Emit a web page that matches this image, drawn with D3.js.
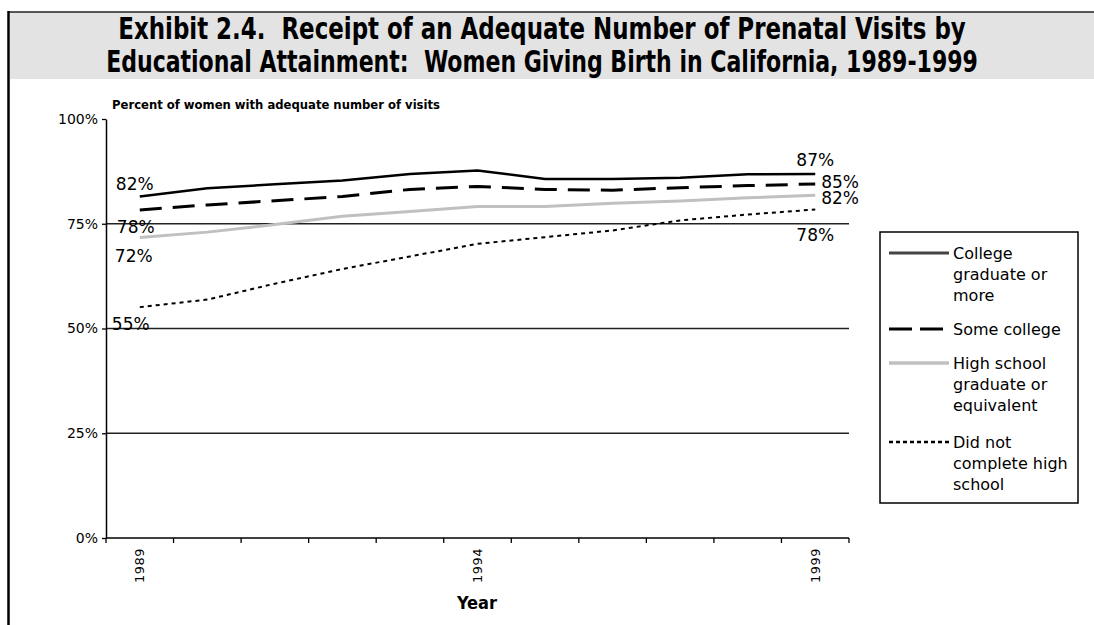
<!DOCTYPE html>
<html>
<head>
<meta charset="utf-8">
<script src="https://cdn.jsdelivr.net/npm/d3@7/dist/d3.min.js"></script>
<style>
  body { margin: 0; background: #fff; }
  svg { display: block; }
</style>
</head>
<body>
<svg id="chart" width="1094" height="625"></svg>
<script>
const years = [1989, 1990, 1991, 1992, 1993, 1994, 1995, 1996, 1997, 1998, 1999];
const collegeGrad = [81.5, 83.5, 84.4, 85.3, 86.9, 87.7, 85.7, 85.7, 86.0, 86.8, 86.9];
const someCollege = [78.3, 79.5, 80.5, 81.5, 83.2, 83.9, 83.2, 83.0, 83.6, 84.1, 84.5];
const highSchool = [71.7, 73.0, 74.8, 76.8, 77.9, 79.1, 79.1, 79.9, 80.4, 81.2, 81.8];
const noHighSchool = [55.1, 56.9, 60.7, 64.2, 67.2, 70.2, 71.8, 73.4, 75.8, 77.2, 78.4];
const yTicks = [0, 25, 50, 75, 100];
const xTickLabels = [1989, 1994, 1999];
const legendLabels = [
  ['College', 'graduate or', 'more'],
  ['Some college'],
  ['High school', 'graduate or', 'equivalent'],
  ['Did not', 'complete high', 'school']
];

const size = { width: 1094, height: 625 };
const plot = { left: 106, right: 849, top: 119, bottom: 538 };

const svg = d3.select('#chart');
const sans = "'DejaVu Sans', sans-serif";
const cond = "'DejaVu Sans Condensed', 'DejaVu Sans', sans-serif";

// page frame + title band
svg.append('rect').attr('x', 10).attr('y', 12).attr('width', size.width - 10).attr('height', 67).attr('fill', '#e3e3e3');
svg.append('line').attr('x1', 8).attr('x2', size.width).attr('y1', 12).attr('y2', 12).attr('stroke', '#222').attr('stroke-width', 1.5);
svg.append('line').attr('x1', 8.5).attr('x2', 8.5).attr('y1', 11).attr('y2', size.height).attr('stroke', '#000').attr('stroke-width', 2.5);

const titleLines = [
  { text: 'Exhibit 2.4.  Receipt of an Adequate Number of Prenatal Visits by', y: 39, len: 848 },
  { text: 'Educational Attainment:  Women Giving Birth in California, 1989-1999', y: 72, len: 872 }
];
svg.selectAll('.title').data(titleLines).join('text')
  .attr('class', 'title')
  .attr('text-anchor', 'middle')
  .style('font-family', cond).style('font-weight', 'bold').style('font-size', '30px')
  .style('white-space', 'pre')
  .text(d => d.text)
  .attr('transform', function (d) {
    // squeeze horizontally so each line spans the same width as in the exhibit
    const w = this.getComputedTextLength();
    return `translate(542,${d.y}) scale(${d.len / w},1)`;
  });

// scales
const x = d3.scaleBand().domain(years).range([plot.left, plot.right]);
const cx = d => x(d) + x.bandwidth() / 2;
const y = d3.scaleLinear().domain([0, 100]).range([plot.bottom, plot.top]);

// gridlines
svg.append('g').selectAll('line').data(yTicks.filter(t => t > 0 && t < 100)).join('line')
  .attr('x1', plot.left).attr('x2', plot.right)
  .attr('y1', d => y(d)).attr('y2', d => y(d))
  .attr('stroke', '#222').attr('stroke-width', 1.3);

// y axis
const yAxis = svg.append('g')
  .attr('transform', `translate(${plot.left},0)`)
  .call(d3.axisLeft(y).tickValues(yTicks).tickFormat(d => d + '%').tickSize(4).tickSizeOuter(0));
yAxis.select('.domain').attr('stroke', '#000').attr('stroke-width', 1.5);
yAxis.selectAll('.tick line').attr('stroke', '#000').attr('stroke-width', 1.3);
yAxis.selectAll('.tick text').attr('x', -8)
  .style('font-family', sans).style('font-size', '14px').attr('fill', '#000');

// x axis line + boundary ticks
svg.append('line').attr('x1', plot.left).attr('x2', plot.right)
  .attr('y1', plot.bottom).attr('y2', plot.bottom)
  .attr('stroke', '#000').attr('stroke-width', 1.5);
const bounds = years.map(d => x(d)).concat([plot.right]);
svg.append('g').selectAll('line').data(bounds).join('line')
  .attr('x1', d => d).attr('x2', d => d)
  .attr('y1', plot.bottom).attr('y2', plot.bottom + 5)
  .attr('stroke', '#000').attr('stroke-width', 1.3);
svg.append('g').selectAll('text').data(xTickLabels).join('text')
  .attr('transform', d => `translate(${cx(d)},${plot.bottom + 10}) rotate(-90)`)
  .attr('text-anchor', 'end').attr('dy', '0.35em')
  .style('font-family', sans).style('font-size', '13px').style('letter-spacing', '0.5px')
  .text(d => d);

svg.append('text').attr('x', 477).attr('y', 609).attr('text-anchor', 'middle')
  .style('font-family', cond).style('font-weight', 'bold').style('font-size', '18px')
  .text('Year');
svg.append('text').attr('x', 112).attr('y', 109)
  .attr('textLength', 328).attr('lengthAdjust', 'spacingAndGlyphs')
  .style('font-family', cond).style('font-weight', 'bold').style('font-size', '13px')
  .text('Percent of women with adequate number of visits');

// series
const series = [
  { values: collegeGrad, stroke: '#000', width: 2.5, dash: null, legendStroke: '#444',
    start: { dx: -5, dy: -7, anchor: 'middle' }, end: { dx: 0, dy: -8, anchor: 'middle' } },
  { values: someCollege, stroke: '#000', width: 3, dash: '22,11', legendStroke: '#000',
    start: { dx: -4, dy: 23, anchor: 'middle' }, end: { dx: 6, dy: 4, anchor: 'start' } },
  { values: highSchool, stroke: '#c0c0c0', width: 3, dash: null, legendStroke: '#c0c0c0',
    start: { dx: -6, dy: 24, anchor: 'middle' }, end: { dx: 6, dy: 9, anchor: 'start' } },
  { values: noHighSchool, stroke: '#000', width: 2, dash: '4,4', legendStroke: '#000',
    start: { dx: -9, dy: 23, anchor: 'middle' }, end: { dx: 0, dy: 31, anchor: 'middle' } }
];

const line = d3.line().x((d, i) => cx(years[i])).y(d => y(d));

// draw bottom series first so the solid line sits on top
series.slice().reverse().forEach(s => {
  svg.append('path')
    .attr('d', line(s.values))
    .attr('fill', 'none')
    .attr('stroke', s.stroke)
    .attr('stroke-width', s.width)
    .attr('stroke-dasharray', s.dash);
});

series.forEach(s => {
  const n = s.values.length - 1;
  [[0, s.start], [n, s.end]].forEach(([i, pos]) => {
    svg.append('text')
      .attr('x', cx(years[i]) + pos.dx)
      .attr('y', y(s.values[i]) + pos.dy)
      .attr('text-anchor', pos.anchor)
      .style('font-family', sans).style('font-size', '17px')
      .text(Math.round(s.values[i]) + '%');
  });
});

// legend
const legend = svg.append('g');
legend.append('rect').attr('x', 880).attr('y', 232).attr('width', 198).attr('height', 271)
  .attr('fill', '#fff').attr('stroke', '#000').attr('stroke-width', 1.5);
const legendY = [253, 329, 363, 442];
series.forEach((s, i) => {
  legend.append('line')
    .attr('x1', 889).attr('x2', 949)
    .attr('y1', legendY[i]).attr('y2', legendY[i])
    .attr('stroke', s.legendStroke)
    .attr('stroke-width', s.width + (i === 1 ? 0 : 0.5))
    .attr('stroke-dasharray', i === 1 ? '23,8' : (i === 3 ? '4,3' : null));
  const t = legend.append('text')
    .attr('x', 953).attr('y', legendY[i] + 6)
    .style('font-family', sans).style('font-size', '16px');
  legendLabels[i].forEach((l, j) => {
    t.append('tspan').attr('x', 953).attr('dy', j === 0 ? 0 : 21).text(l);
  });
});
</script>
</body>
</html>
